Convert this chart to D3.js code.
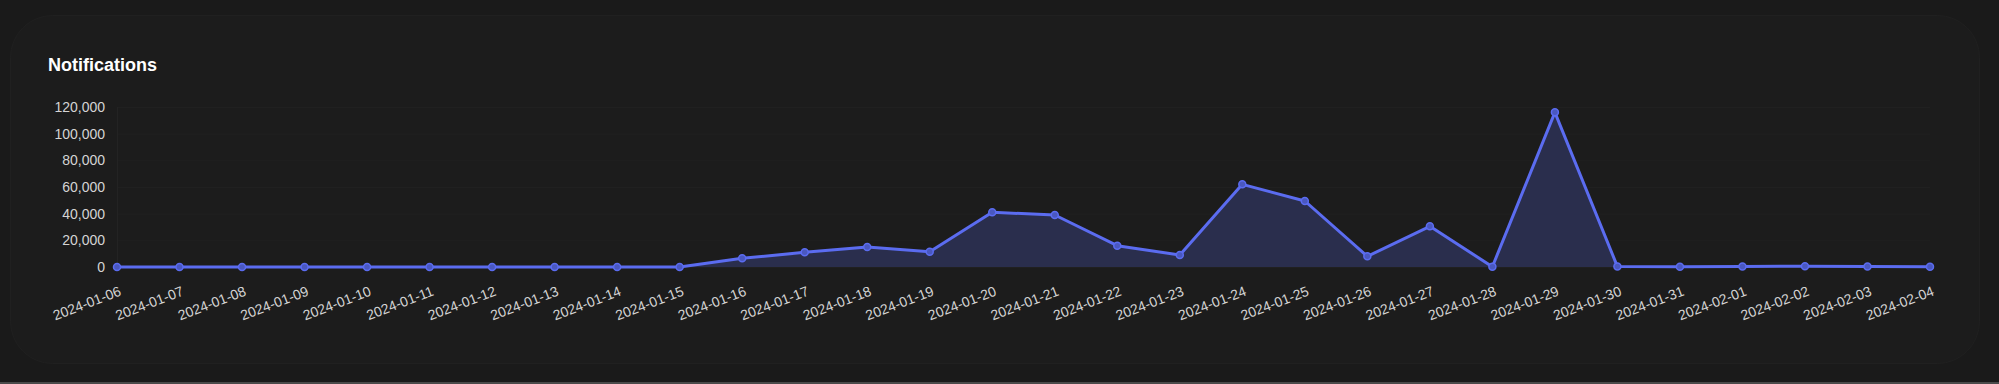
<!DOCTYPE html>
<html>
<head>
<meta charset="utf-8">
<script src="https://cdn.jsdelivr.net/npm/d3@7"></script>
<style>
  html, body { margin: 0; padding: 0; background: #1a1a1a; }
  svg { display: block; }
</style>
</head>
<body>
<svg id="chart" width="1999" height="384"></svg>
<script>
const title = "Notifications";
const dates = ["2024-01-06","2024-01-07","2024-01-08","2024-01-09","2024-01-10","2024-01-11","2024-01-12","2024-01-13","2024-01-14","2024-01-15","2024-01-16","2024-01-17","2024-01-18","2024-01-19","2024-01-20","2024-01-21","2024-01-22","2024-01-23","2024-01-24","2024-01-25","2024-01-26","2024-01-27","2024-01-28","2024-01-29","2024-01-30","2024-01-31","2024-02-01","2024-02-02","2024-02-03","2024-02-04"];
const values = [0,0,0,0,0,0,0,0,0,0,6500,11000,15000,11500,41000,39000,16000,9000,62000,49500,8000,30500,200,116000,300,200,300,600,300,100];
const yTicks = [0,20000,40000,60000,80000,100000,120000];

const svg = d3.select("#chart");
const W = 1999, H = 384;

// card
svg.append("rect").attr("x", 0).attr("y", 0).attr("width", W).attr("height", H).attr("fill", "#1a1a1a");
svg.append("rect").attr("x", 10.5).attr("y", 15.5).attr("width", 1969).attr("height", 348)
  .attr("rx", 42).attr("fill", "#1c1c1c").attr("stroke", "#202020").attr("stroke-width", 1);
svg.append("rect").attr("x", 0).attr("y", 382).attr("width", W).attr("height", 2).attr("fill", "#4a4a4a");

const font = "Liberation Sans, Arial, sans-serif";

svg.append("text").attr("x", 48).attr("y", 71).text(title)
  .attr("fill", "#ffffff").attr("font-family", font)
  .attr("font-weight", "bold").attr("font-size", 18);

const x = d3.scalePoint().domain(dates).range([117, 1930]);
const y = d3.scaleLinear().domain([0, 120000]).range([267, 107]);

// gridlines
const grid = svg.append("g");
grid.selectAll("line.h").data(yTicks).join("line")
  .attr("x1", 117).attr("x2", 1930).attr("y1", d => y(d) + 0.5).attr("y2", d => y(d) + 0.5)
  .attr("stroke", "#202020").attr("stroke-width", 1);
grid.append("line").attr("x1", 117.5).attr("x2", 117.5).attr("y1", 107).attr("y2", 267)
  .attr("stroke", "#232323");

// y axis
const yAxis = d3.axisLeft(y).tickValues(yTicks).tickFormat(d3.format(",")).tickSize(0).tickPadding(12);
const gy = svg.append("g").attr("transform", "translate(117,0)").call(yAxis);
gy.select(".domain").remove();
gy.selectAll("text").attr("fill", "#d4d4d4").attr("font-family", font).attr("font-size", 14);

// x axis
const xAxis = d3.axisBottom(x).tickSize(0).tickPadding(0);
const gx = svg.append("g").attr("transform", "translate(0,286)").call(xAxis);
gx.select(".domain").remove();
gx.selectAll("text")
  .attr("fill", "#d4d4d4").attr("font-family", font).attr("font-size", 14)
  .attr("text-anchor", "end").attr("dy", "0.71em").attr("y", 0).attr("x", 1)
  .attr("transform", "rotate(-21)");

// area
const pts = dates.map((d, i) => ({ d, v: values[i] }));
const area = d3.area().x(p => x(p.d)).y0(y(0)).y1(p => y(p.v));
svg.append("path").datum(pts).attr("d", area).attr("fill", "#2a2e4d");

const line = d3.line().x(p => x(p.d)).y(p => y(p.v));
svg.append("path").datum(pts).attr("d", line).attr("fill", "none")
  .attr("stroke", "#5b6cf0").attr("stroke-width", 3).attr("stroke-linejoin", "round");

svg.append("g").selectAll("circle").data(pts).join("circle")
  .attr("cx", p => x(p.d)).attr("cy", p => y(p.v)).attr("r", 3.5)
  .attr("fill", "#4a58c0").attr("stroke", "#5b6cf0").attr("stroke-width", 1.5);
</script>
</body>
</html>
